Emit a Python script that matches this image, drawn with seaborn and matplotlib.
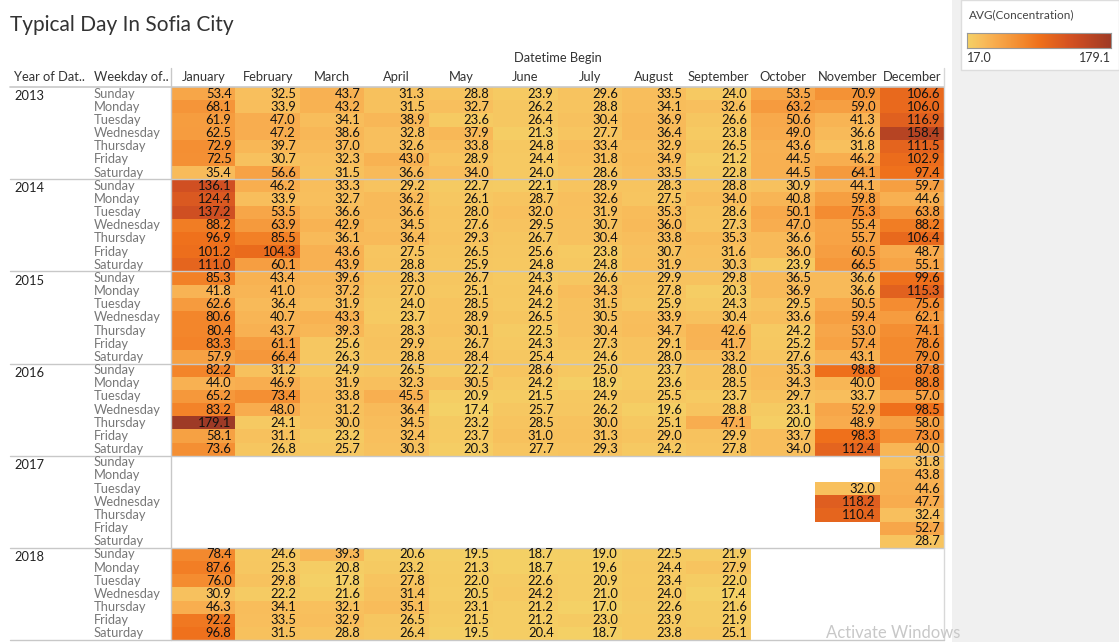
import numpy as np
import pandas as pd
import matplotlib
matplotlib.use("Agg")
import matplotlib.pyplot as plt
import matplotlib.transforms as mtransforms
from matplotlib.colors import LinearSegmentedColormap
from matplotlib.lines import Line2D
from matplotlib.patches import Rectangle
import seaborn as sns

sns.set_theme(style="white")
plt.rcParams["font.family"] = ["Lato", "DejaVu Sans"]

# ------------------------------------------------------------
# Data: average concentration, rows = weekday, cols = month
# ------------------------------------------------------------
months = ["January", "February", "March", "April", "May", "June", "July",
          "August", "September", "October", "November", "December"]
weekdays = ["Sunday", "Monday", "Tuesday", "Wednesday", "Thursday", "Friday", "Saturday"]
years = [2013, 2014, 2015, 2016, 2017, 2018]

y2013 = [
    [53.4, 32.5, 43.7, 31.3, 28.8, 23.9, 29.6, 33.5, 24.0, 53.5, 70.9, 106.6],
    [68.1, 33.9, 43.2, 31.5, 32.7, 26.2, 28.8, 34.1, 32.6, 63.2, 59.0, 106.0],
    [61.9, 47.0, 34.1, 38.9, 23.6, 26.4, 30.4, 36.9, 26.6, 50.6, 41.3, 116.9],
    [62.5, 47.2, 38.6, 32.8, 37.9, 21.3, 27.7, 36.4, 23.8, 49.0, 36.6, 158.4],
    [72.9, 39.7, 37.0, 32.6, 33.8, 24.8, 33.4, 32.9, 26.5, 43.6, 31.8, 111.5],
    [72.5, 30.7, 32.3, 43.0, 28.9, 24.4, 31.8, 34.9, 21.2, 44.5, 46.2, 102.9],
    [35.4, 56.6, 31.5, 36.6, 34.0, 24.0, 28.6, 33.5, 22.8, 44.5, 64.1, 97.4],
]
y2014 = [
    [136.1, 46.2, 33.3, 29.2, 22.7, 22.1, 28.9, 28.3, 28.8, 30.9, 44.1, 59.7],
    [124.4, 33.9, 32.7, 36.2, 26.1, 28.7, 32.6, 27.5, 34.0, 40.8, 59.8, 44.6],
    [137.2, 53.5, 36.6, 36.6, 28.0, 32.0, 31.9, 35.3, 28.6, 50.1, 75.3, 63.8],
    [88.2, 63.9, 42.9, 34.5, 27.6, 29.5, 30.7, 36.0, 27.3, 47.0, 55.4, 88.2],
    [96.9, 85.5, 36.1, 36.4, 29.3, 26.7, 30.4, 33.8, 35.3, 36.6, 55.7, 106.4],
    [101.2, 104.3, 43.6, 27.5, 26.5, 25.6, 23.8, 30.7, 31.6, 36.0, 60.5, 48.7],
    [111.0, 60.1, 43.9, 28.8, 25.9, 24.8, 24.8, 31.9, 30.3, 23.9, 66.5, 55.1],
]
y2015 = [
    [85.3, 43.4, 39.6, 28.3, 26.7, 24.3, 26.6, 29.9, 29.8, 36.5, 36.6, 99.6],
    [41.8, 41.0, 37.2, 27.0, 25.1, 24.6, 34.3, 27.8, 20.3, 36.9, 36.6, 115.3],
    [62.6, 36.4, 31.9, 24.0, 28.5, 24.2, 31.5, 25.9, 24.3, 29.5, 50.5, 75.6],
    [80.6, 40.7, 43.3, 23.7, 28.9, 26.5, 30.5, 33.9, 30.4, 33.6, 59.4, 62.1],
    [80.4, 43.7, 39.3, 28.3, 30.1, 22.5, 30.4, 34.7, 42.6, 24.2, 53.0, 74.1],
    [83.3, 61.1, 25.6, 29.9, 26.7, 24.3, 27.3, 29.1, 41.7, 25.2, 57.4, 78.6],
    [57.9, 66.4, 26.3, 28.8, 28.4, 25.4, 24.6, 28.0, 33.2, 27.6, 43.1, 79.0],
]
y2016 = [
    [82.2, 31.2, 24.9, 26.5, 22.2, 28.6, 25.0, 23.7, 28.0, 35.3, 98.8, 87.8],
    [44.0, 46.9, 31.9, 32.3, 30.5, 24.2, 18.9, 23.6, 28.5, 34.3, 40.0, 88.8],
    [65.2, 73.4, 33.8, 45.5, 20.9, 21.5, 24.9, 25.5, 23.7, 29.7, 33.7, 57.0],
    [83.2, 48.0, 31.2, 36.4, 17.4, 25.7, 26.2, 19.6, 28.8, 23.1, 52.9, 98.5],
    [179.1, 24.1, 30.0, 34.5, 23.2, 28.5, 30.0, 25.1, 47.1, 20.0, 48.9, 58.0],
    [58.1, 31.1, 23.2, 32.4, 23.7, 31.0, 31.3, 29.0, 29.9, 33.7, 98.3, 73.0],
    [73.6, 26.8, 25.7, 30.3, 20.3, 27.7, 29.3, 24.2, 27.8, 34.0, 112.4, 40.0],
]
# 2017 only has November / December
nov2017 = [None, None, 32.0, 118.2, 110.4, None, None]
dec2017 = [31.8, 43.8, 44.6, 47.7, 32.4, 52.7, 28.7]
# 2018 only Jan..Sep
y2018 = [
    [78.4, 24.6, 39.3, 20.6, 19.5, 18.7, 19.0, 22.5, 21.9],
    [87.6, 25.3, 20.8, 23.2, 21.3, 18.7, 19.6, 24.4, 27.9],
    [76.0, 29.8, 17.8, 27.8, 22.0, 22.6, 20.9, 23.4, 22.0],
    [30.9, 22.2, 21.6, 31.4, 20.5, 24.2, 21.0, 24.0, 17.4],
    [46.3, 34.1, 32.1, 35.1, 23.1, 21.2, 17.0, 22.6, 21.6],
    [92.2, 33.5, 32.9, 26.5, 21.5, 21.2, 23.0, 23.9, 21.9],
    [96.8, 31.5, 28.8, 26.4, 19.5, 20.4, 18.7, 23.8, 25.1],
]

# build one big table (42 x 12)
y2017 = [[None] * 10 + [n, d] for n, d in zip(nov2017, dec2017)]
y2018 = [r + [None] * 3 for r in y2018]
blocks = [y2013, y2014, y2015, y2016, y2017, y2018]
rows = [r for b in blocks for r in b]
idx = pd.MultiIndex.from_product([years, weekdays], names=["year", "weekday"])
df = pd.DataFrame(rows, index=idx, columns=months).astype(float)

# Tableau orange-gold
cmap = LinearSegmentedColormap.from_list("orange_gold", [
    "#f4d166", "#f8be5c", "#f8aa4c", "#f5983b", "#f3852a", "#ef701b",
    "#e2621f", "#d65322", "#c54923", "#b14223", "#9e3a26"])
vmin, vmax = 17.0, 179.1

W, H = 1119, 642
fig = plt.figure(figsize=(W / 100, H / 100), dpi=100)
fig.patch.set_facecolor("white")

def px(x0, y0, x1, y1):
    # pixel box -> figure fraction
    return [x0 / W, 1 - y1 / H, (x1 - x0) / W, (y1 - y0) / H]

ax = fig.add_axes(px(171, 87, 944, 640))
sns.heatmap(df, ax=ax, cmap=cmap, vmin=vmin, vmax=vmax, cbar=False,
            annot=True, fmt=".1f", linewidths=0,
            annot_kws={"color": "#111111", "fontsize": 9.4, "ha": "right"})
for t in ax.texts:
    x, y = t.get_position()
    t.set_position((x + 0.44, y))

ax.xaxis.tick_top()
ax.xaxis.set_label_position("top")
ax.set_xticklabels(months, rotation=0, fontsize=9.3, color="#333333")
ax.tick_params(axis="x", length=0, pad=3)
ax.set_xlabel("Datetime Begin", fontsize=9.3, color="#333333", labelpad=6)
ax.set_yticks([])
ax.set_ylabel("")
for s in ax.spines.values():
    s.set_visible(False)

# row headers
tr = mtransforms.blended_transform_factory(fig.transFigure, ax.transData)
for i, yr in enumerate(years):
    ax.text(14 / W, i * 7 + 0.7, str(yr), transform=tr, fontsize=9.3,
            color="#222222", va="center", ha="left")
    for j, wd in enumerate(weekdays):
        ax.text(94 / W, i * 7 + j + 0.5, wd, transform=tr, fontsize=9.3,
                color="#777777", va="center", ha="left")
    if i > 0:
        ax.add_line(Line2D([10 / W, 944 / W], [i * 7, i * 7], transform=tr,
                           color="#c8c8c8", lw=1, clip_on=False))

fig.text(14 / W, 1 - 77 / H, "Year of Dat..", fontsize=9.3, color="#333333", va="center")
fig.text(94 / W, 1 - 77 / H, "Weekday of..", fontsize=9.3, color="#333333", va="center")

# grid lines around the table
fig.add_artist(Line2D([10 / W, 944 / W], [1 - 87 / H] * 2, color="#c8c8c8", lw=1.2))
fig.add_artist(Line2D([171 / W] * 2, [1 - 68 / H, 1 - 640 / H], color="#c8c8c8", lw=1))
fig.add_artist(Line2D([944 / W] * 2, [1 - 68 / H, 1 - 640 / H], color="#d8d8d8", lw=1))
fig.add_artist(Line2D([10 / W, 944 / W], [1 - 640 / H] * 2, color="#c8c8c8", lw=1))

# title
fig.text(10 / W, 1 - 25 / H, "Typical Day In Sofia City", fontsize=15,
         color="#333333", va="center", ha="left")

# right side panel with legend
fig.add_artist(Rectangle((952 / W, 0), 1 - 952 / W, 1, transform=fig.transFigure,
                         facecolor="#f0f0f0", edgecolor="none", zorder=-2))
fig.add_artist(Rectangle((961 / W, 1 - 70 / H), 1 - 961 / W, 70 / H,
                         transform=fig.transFigure, facecolor="white",
                         edgecolor="#dddddd", lw=1, zorder=-1))
fig.text(969 / W, 1 - 15 / H, "AVG(Concentration)", fontsize=8.5,
         color="#444444", va="center")
cax = fig.add_axes(px(967, 33, 1111, 48))
cax.set_zorder(5)
cax.imshow(np.linspace(0, 1, 256)[None, :], aspect="auto", cmap=cmap)
cax.set_xticks([])
cax.set_yticks([])
for s in cax.spines.values():
    s.set_color("#999999")
    s.set_linewidth(0.8)
fig.text(967 / W, 1 - 58 / H, "17.0", fontsize=9, color="#333333", va="center")
fig.text(1111 / W, 1 - 58 / H, "179.1", fontsize=9, color="#333333",
         va="center", ha="right")

fig.text(826 / W, 1 - 633 / H, "Activate Windows", fontsize=12,
         color="#c8c8c8", va="center", ha="left")

fig.savefig("out.png", dpi=100)
